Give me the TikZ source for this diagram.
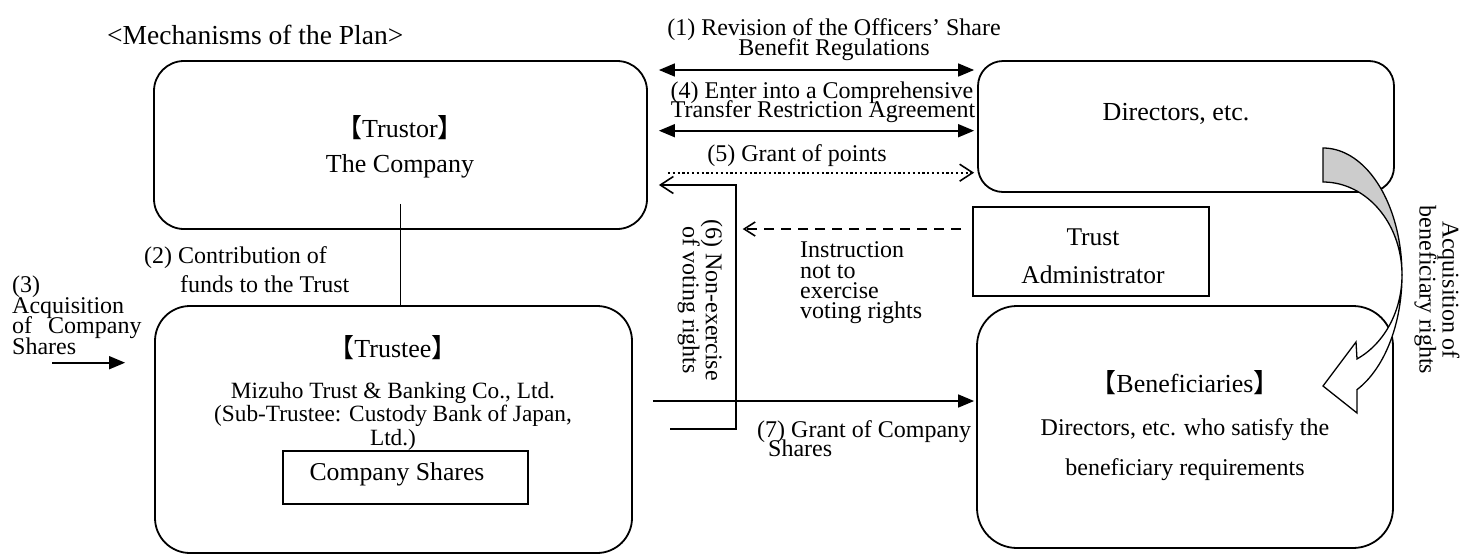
\documentclass[tikz,border=0pt]{standalone}
\usepackage{fontspec}
\setmainfont{Liberation Serif}
\newfontfamily\cjk{Noto Sans CJK JP}
\usetikzlibrary{arrows.meta}
\newcommand{\lbr}{{\cjk 【}}
\newcommand{\rbr}{{\cjk 】}}
\newcommand{\fsz}[1]{\fontsize{#1}{#1}\selectfont}
\tikzset{
  rbox/.style={draw, line width=1.8pt, inner sep=0pt},
  txt/.style={anchor=base, inner sep=0pt},
  ltxt/.style={anchor=base west, inner sep=0pt},
  lab/.style={font=\fsz{24}},
  plainline/.style={line width=1.6pt},
  dblarrow/.style={line width=1.6pt, {Triangle[length=16pt,width=13pt]}-{Triangle[length=16pt,width=13pt]}},
  triarrow/.style={line width=1.6pt, -{Triangle[length=16pt,width=13pt]}},
  openarrow/.style={line width=1.6pt, -{Straight Barb[length=13pt,width=17pt,line width=1.6pt]}},
  dotarrow/.style={openarrow, dash pattern=on 2.2pt off 2.6pt},
  dasharrow/.style={line width=1.6pt, dash pattern=on 10pt off 7pt, -{Straight Barb[length=11pt,width=14pt,line width=1.6pt]}},
  curvedpart/.style={line width=1.3pt, line join=miter},
}
\begin{document}
\begin{tikzpicture}[x=1pt,y=-1pt]
\useasboundingbox (0,0) rectangle (1460,555);

% title
\node[ltxt, font=\fsz{27.5}] (title) at (107,44) {<Mechanisms of the Plan>};

% boxes
\node[rbox, rounded corners=30pt, minimum width=493pt, minimum height=168pt] (trustor) at (400.5,145) {};
\node[rbox, rounded corners=35pt, minimum width=477pt, minimum height=247pt] (trustee) at (393.5,429.5) {};
\node[rbox, minimum width=245pt, minimum height=53pt] (csbox) at (405.5,477.5) {};
\node[rbox, rounded corners=25pt, minimum width=416pt, minimum height=131pt] (directors) at (1186,126.5) {};
\node[rbox, minimum width=236pt, minimum height=89pt] (admin) at (1091,251.5) {};
\node[rbox, rounded corners=40pt, minimum width=416pt, minimum height=242pt] (benef) at (1185,427) {};

% box texts
\node[txt, font=\fsz{26}] (trustorA) at (400,137) {\lbr Trustor\rbr};
\node[txt, font=\fsz{26}] (trustorB) at (400,172) {The Company};
\node[txt, font=\fsz{26}] (trusteeA) at (393,357) {\lbr Trustee\rbr};
\node[txt, font=\fsz{23.3}] (trusteeB) at (393,398) {Mizuho Trust \& Banking Co., Ltd.};
\node[txt, font=\fsz{23.3}] (trusteeC) at (393,421.5) {(Sub-Trustee: Custody Bank of Japan,};
\node[txt, font=\fsz{23.3}] (trusteeD) at (393,445) {Ltd.)};
\node[txt, font=\fsz{25.7}] (cstext) at (397,480) {Company Shares};
\node[txt, font=\fsz{26}] (dirtext) at (1176,120) {Directors, etc.};
\node[txt, font=\fsz{25.5}] (adminA) at (1093,245) {Trust};
\node[txt, font=\fsz{25.5}] (adminB) at (1093,283) {Administrator};
\node[txt, font=\fsz{26}] (benefA) at (1185,392) {\lbr Beneficiaries\rbr};
\node[txt, font=\fsz{24}] (benefB) at (1185,435) {Directors, etc. who satisfy the};
\node[txt, font=\fsz{24}] (benefC) at (1185,475) {beneficiary requirements};

% connector labels
\node[txt, lab] (l1a) at (834,35) {(1) Revision of the Officers’ Share};
\node[txt, lab] (l1b) at (834,55) {Benefit Regulations};
\node[txt, lab] (l4a) at (822,98) {(4) Enter into a Comprehensive};
\node[txt, lab] (l4b) at (823,117) {Transfer Restriction Agreement};
\node[txt, lab] (l5) at (797,161) {(5) Grant of points};
\node[ltxt, lab] (l2a) at (144,263) {(2) Contribution of};
\node[ltxt, lab] (l2b) at (180,292) {funds to the Trust};
\node[ltxt, lab] (l3a) at (12,292) {(3)};
\node[ltxt, lab] (l3b) at (12,313) {Acquisition};
\node[ltxt, lab] (l3c) at (12,333) {of\hspace{10pt} Company};
\node[ltxt, lab] (l3d) at (12,354) {Shares};
\node[ltxt, lab] (li1) at (800,257) {Instruction};
\node[ltxt, lab] (li2) at (800,278) {not to};
\node[ltxt, lab] (li3) at (800,298) {exercise};
\node[ltxt, lab] (li4) at (800,318) {voting rights};
\node[ltxt, lab] (l7a) at (757,437) {(7) Grant of Company};
\node[ltxt, lab] (l7b) at (768,456) {Shares};
\node[rotate=-90, align=center, inner sep=0pt, font=\fontsize{24}{21}\selectfont] (l6) at (700,300) {(6) Non-exercise\\of voting rights};
\node[rotate=-90, align=center, inner sep=0pt, font=\fontsize{24}{18}\selectfont] (lacq) at (1437,290) {Acquisition of\\beneficiary rights};

% connectors
\draw[dblarrow, shorten <=11pt, shorten >=3pt] (trustor.east |- 0,70) -- (directors.west |- 0,70);
\draw[dblarrow, shorten <=11pt, shorten >=3pt] (trustor.east |- 0,130.7) -- (directors.west |- 0,130.7);
\draw[dotarrow, shorten <=20pt, shorten >=3pt] (trustor.east |- 0,172.7) -- (directors.west |- 0,172.7);
\draw[plainline, shorten <=-26pt] (trustor.south) -- (trustee.north -| trustor.south);
\coordinate (c3) at (52,362.7);
\draw[triarrow, shorten >=29pt] (c3) -- (trustee.west |- c3);
\coordinate (c6a) at (670,429);
\coordinate (c6b) at (735.7,185);
\draw[openarrow, shorten >=11pt] (c6a) -| (c6b) -- (trustor.east |- c6b);
\draw[dasharrow, shorten <=11pt, shorten >=7pt] (admin.west |- 0,229) -- (c6b |- 0,229);
\draw[triarrow, shorten <=20pt, shorten >=2pt] (trustee.east |- 0,401) -- (benef.west |- 0,401);

% curved arrow (acquisition of beneficiary rights)
\filldraw[curvedpart, fill=gray!40]
  plot[domain=90:0, samples=40] ({1323+79*cos(\x)},{275-127*sin(\x)})
  -- plot[domain=0:90, samples=40] ({1323+79*cos(\x)},{275-93*sin(\x)}) -- cycle;
\filldraw[curvedpart, fill=white]
  plot[domain=0:-64.5, samples=40] ({1323+79*cos(\x)},{275-93*sin(\x)})
  -- (1356,342) -- (1323,386) -- (1357,413)
  -- plot[domain=-64.5:0, samples=40] ({1323+79*cos(\x)},{275-127*sin(\x)}) -- cycle;
\end{tikzpicture}
\end{document}
